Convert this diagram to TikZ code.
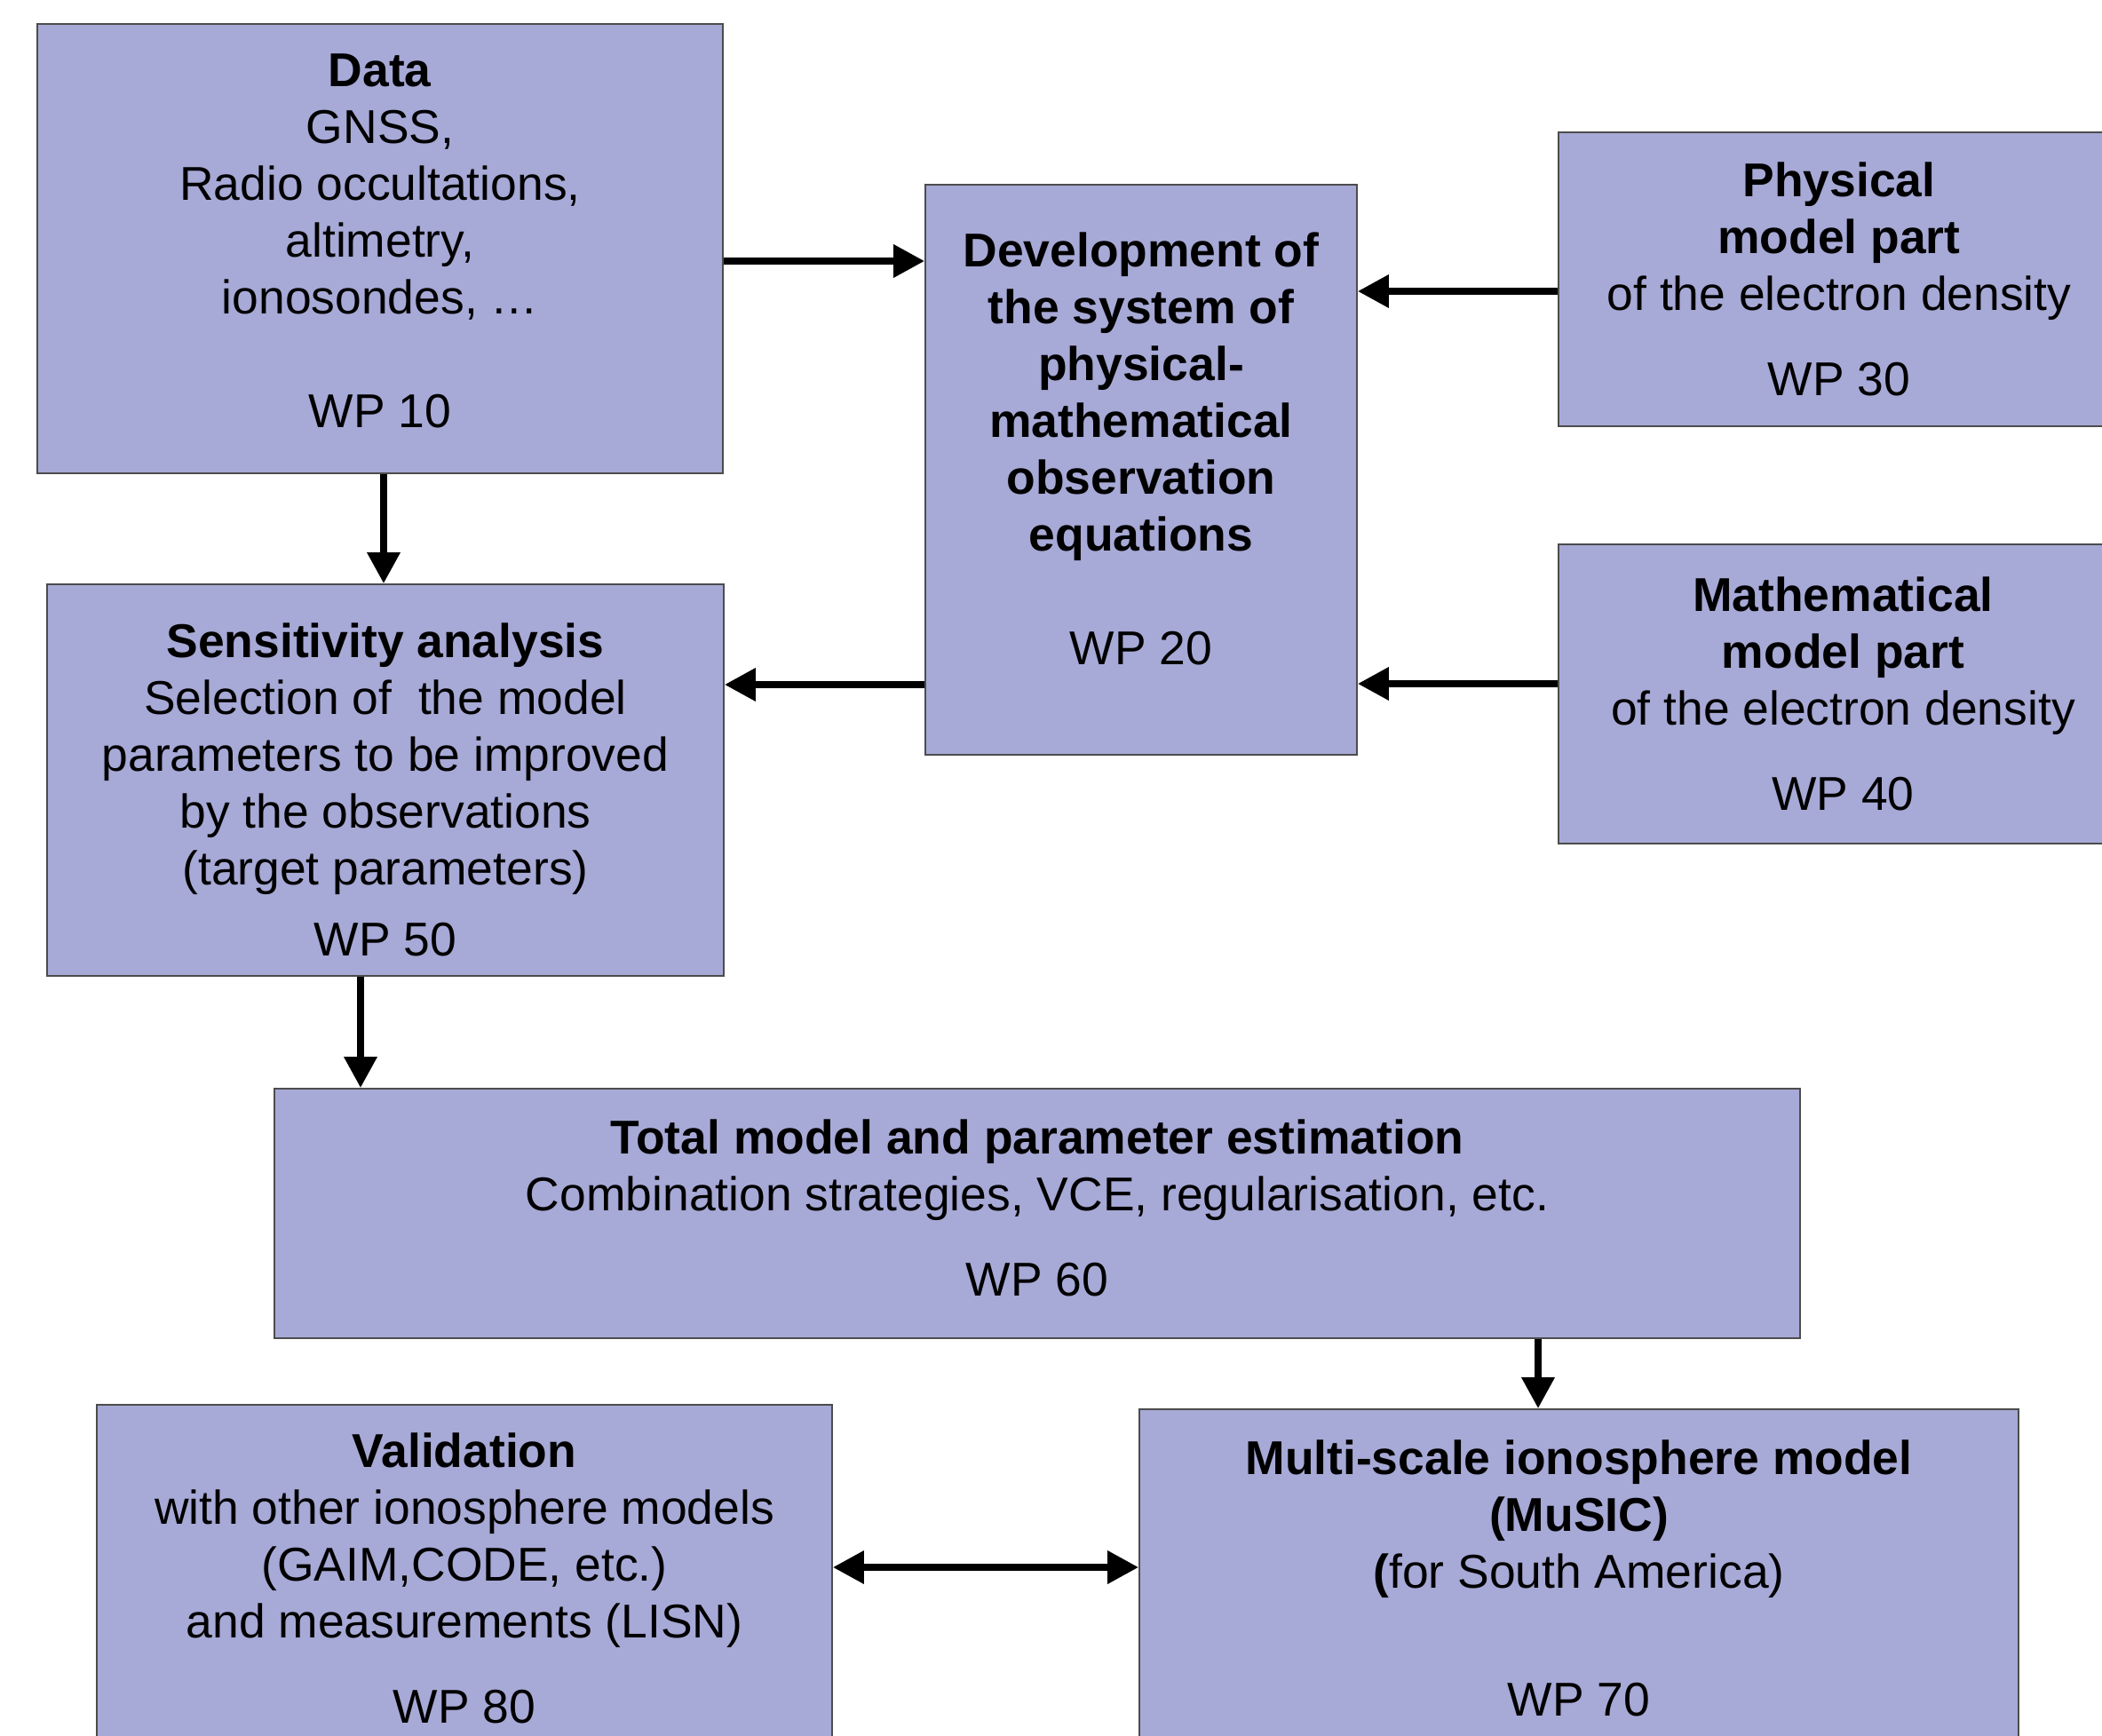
\documentclass[tikz,border=0pt]{standalone}
\usepackage{fontspec}
\setmainfont{Liberation Sans}
\usepackage{tikz}
\usetikzlibrary{calc,arrows.meta}
\definecolor{wpblue}{RGB}{167,169,214}
\tikzstyle{wpbox}=[rectangle,draw=black!70,fill=wpblue,align=center,
                   font=\fontsize{15.2}{18.2}\selectfont,inner sep=0pt]
\tikzstyle{wparrow}=[line width=2.5pt,-{Triangle[length=10pt,width=10pt]}]
\tikzstyle{wpboth}=[line width=2.5pt,{Triangle[length=10pt,width=10pt]}-{Triangle[length=10pt,width=10pt]}]
\newcommand\wpgap{\\[9.1pt]}

\begin{document}
\begin{tikzpicture}
    	\clip (0,0) rectangle (23.67,-19.55);
    	\node [wpbox,minimum width=7.72cm,minimum height=5.06cm] (data) at (4.28,-2.80) {
    		\textbf{Data}\\GNSS,\\Radio occultations,\\altimetry,\\ionosondes, …\\[18.2pt]WP 10\\[-13pt]\mbox{}
    	};
    	\node [wpbox,minimum width=7.62cm,minimum height=4.41cm] (sens) at (4.34,-8.785) {
    		\textbf{Sensitivity analysis}\\Selection of\ \ the model\\parameters to be improved\\by the observations\\(target parameters)\\[4.5pt]WP 50\\[-24.2pt]\mbox{}
    	};
    	\node [wpbox,minimum width=4.86cm,minimum height=6.42cm] (dev) at (12.85,-5.29) {
    		\textbf{Development of}\\\textbf{the system of}\\\textbf{physical-}\\\textbf{mathematical}\\\textbf{observation}\\\textbf{equations}\\[18.2pt]WP 20\\[-4.8pt]\mbox{}
    	};
    	\node [wpbox,minimum width=6.32cm,minimum height=3.31cm] (phys) at (20.71,-3.145) {
    		\textbf{Physical}\\\textbf{model part}\\of the electron density\wpgap WP 30
    	};
    	\node [wpbox,minimum width=6.41cm,minimum height=3.37cm] (math) at (20.755,-7.815) {
    		\textbf{Mathematical}\\\textbf{model part}\\of the electron density\wpgap WP 40
    	};
    	\node [wpbox,minimum width=17.18cm,minimum height=2.81cm] (total) at (11.68,-13.665) {
    		\textbf{Total model and parameter estimation}\\Combination strategies, VCE, regularisation, etc.\wpgap WP 60\\[-14.8pt]\mbox{}
    	};
    	\node [wpbox,minimum width=8.28cm,minimum height=3.90cm] (valid) at (5.23,-17.77) {
    		\textbf{Validation}\\with other ionosphere models\\(GAIM,CODE, etc.)\\and measurements (LISN)\wpgap WP 80
    	};
    	\node [wpbox,minimum width=9.90cm,minimum height=3.80cm] (music) at (17.78,-17.77) {
    		\textbf{Multi-scale ionosphere model}\\\textbf{(MuSIC)}\\\textbf{(}for South America)\\[22.8pt]WP 70
    	};
    	\coordinate (c1) at ([yshift=-1.4mm]data.east);
    	\coordinate (c2) at ([xshift=0.4mm]data.south);
    	\coordinate (c3) at ([yshift=-1.35mm]phys.west);
    	\coordinate (c4) at ([yshift=1.15mm]math.west);
    	\coordinate (c5) at ([yshift=-24.2mm]dev.west);
    	\coordinate (c6) at ([xshift=-2.8mm]sens.south);
    	\coordinate (c7) at ([xshift=-4.6mm]music.north);
    	\coordinate (c8) at ([yshift=1.2mm]valid.east);
    	\draw [wparrow] (c1) -- (c1 -| dev.west);
    	\draw [wparrow] (c2) -- (c2 |- sens.north);
    	\draw [wparrow] (c3) -- (c3 -| dev.east);
    	\draw [wparrow] (c4) -- (c4 -| dev.east);
    	\draw [wparrow] (c5) -- (c5 -| sens.east);
    	\draw [wparrow] (c6) -- (c6 |- total.north);
    	\draw [wparrow] (c7 |- total.south) -- (c7);
    	\draw [wpboth] (c8) -- (c8 -| music.west);
    \end{tikzpicture}
\end{document}
